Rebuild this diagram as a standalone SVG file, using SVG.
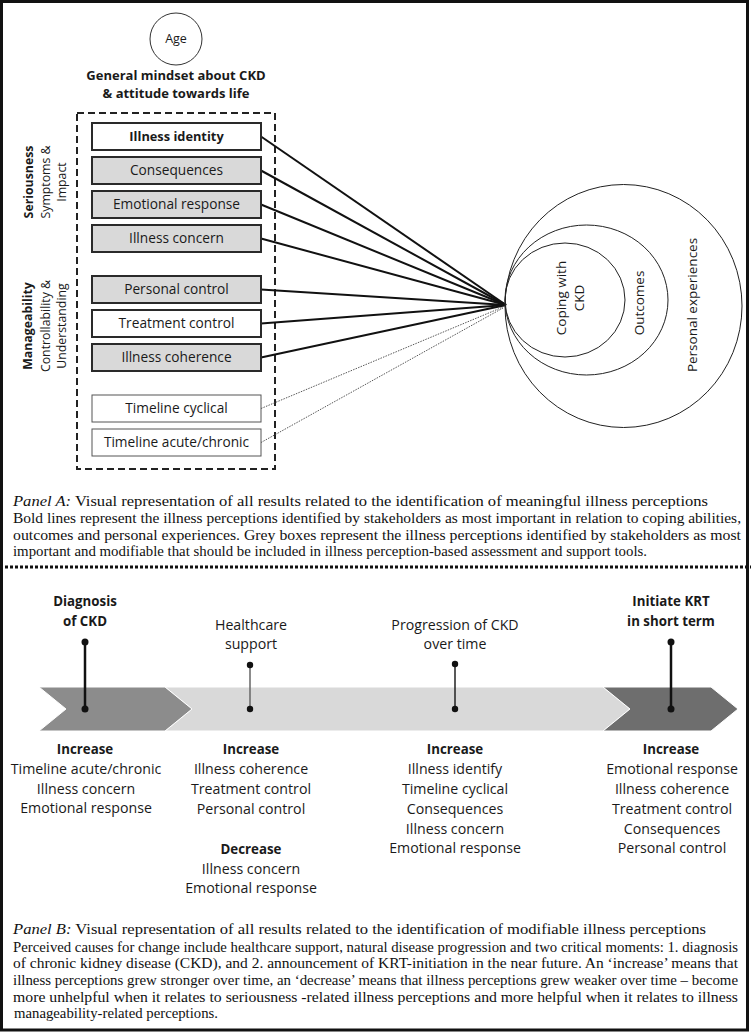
<svg xmlns="http://www.w3.org/2000/svg" width="751" height="1032" viewBox="0 0 751 1032">
<style>
.sans{font-family:"Open Sans","DejaVu Sans",sans-serif;fill:#1a1a1a}
.box{font-size:13.7px;text-anchor:middle}
.b{font-weight:bold}
.cap{font-family:"Liberation Serif","Times New Roman",serif;font-size:14.6px;fill:#111}
.lst{font-size:14.2px;text-anchor:middle}
.hd{font-size:13.3px;font-weight:bold;text-anchor:middle}
.rot{font-size:12.3px;text-anchor:middle}
.circ{font-size:13.5px;text-anchor:middle}
.grey{fill:#d9d9d9;stroke:#2a2a2a;stroke-width:2}
.white{fill:#fff;stroke:#2a2a2a;stroke-width:2}
.thin{fill:#fff;stroke:#555;stroke-width:1}
.solid{stroke:#111;stroke-width:2;fill:none}
.dot{stroke:#444;stroke-width:0.9;stroke-dasharray:1.5 1.2;fill:none}
.ring{fill:none;stroke:#222;stroke-width:1}
.pin{fill:#111}
</style>
<rect x="0" y="0" width="751" height="1032" fill="#fff"/>
<rect x="1.5" y="1.5" width="746" height="1028.5" fill="none" stroke="#111" stroke-width="3"/>

<!-- Panel A -->
<g id="age">
<circle cx="176" cy="39" r="26" fill="#fff" stroke="#333" stroke-width="1"/>
<text class="sans" x="176" y="43" font-size="12.5" text-anchor="middle">Age</text>
</g>
<g id="mindset">
<text class="sans b" x="176" y="80" font-size="13" text-anchor="middle">General mindset about CKD</text>
<text class="sans b" x="176" y="98" font-size="13" text-anchor="middle">&amp; attitude towards life</text>
</g>
<g id="frame-box">
<rect x="77" y="113" width="198" height="356" fill="none" stroke="#222" stroke-width="2" stroke-dasharray="7 4"/>
</g>
<g id="seriousness-label">
<text class="sans rot b" transform="translate(33,182) rotate(-90)">Seriousness</text>
<text class="sans rot" transform="translate(50,182) rotate(-90)">Symptoms &amp;</text>
<text class="sans rot" transform="translate(66,182) rotate(-90)">Impact</text>
</g>
<g id="manageability-label">
<text class="sans rot b" transform="translate(32,326) rotate(-90)">Manageability</text>
<text class="sans rot" transform="translate(50,326) rotate(-90)">Controllability &amp;</text>
<text class="sans rot" transform="translate(66,326) rotate(-90)">Understanding</text>
</g>

<g id="connectors">
<line class="solid" x1="261" y1="136.5" x2="506" y2="305"/>
<line class="solid" x1="261" y1="170.5" x2="506" y2="305"/>
<line class="solid" x1="261" y1="204.5" x2="506" y2="305"/>
<line class="solid" x1="261" y1="238.5" x2="506" y2="305"/>
<line class="solid" x1="261" y1="289.5" x2="506" y2="305"/>
<line class="solid" x1="261" y1="323.5" x2="506" y2="305"/>
<line class="solid" x1="261" y1="357.5" x2="506" y2="305"/>
<line class="dot" x1="261" y1="408.5" x2="503" y2="307"/>
<line class="dot" x1="261" y1="442.5" x2="503" y2="308"/>
</g>

<g id="illness-identity"><rect class="white" x="92" y="123" width="169" height="27"/><text class="sans b" x="176.5" y="141" font-size="12.8" text-anchor="middle">Illness identity</text></g>
<g id="consequences"><rect class="grey" x="92" y="157" width="169" height="27"/><text class="sans box" x="176.5" y="175">Consequences</text></g>
<g id="emotional-response"><rect class="grey" x="92" y="191" width="169" height="27"/><text class="sans box" x="176.5" y="209">Emotional response</text></g>
<g id="illness-concern"><rect class="grey" x="92" y="225" width="169" height="27"/><text class="sans box" x="176.5" y="243">Illness concern</text></g>
<g id="personal-control"><rect class="grey" x="92" y="276" width="169" height="27"/><text class="sans box" x="176.5" y="294">Personal control</text></g>
<g id="treatment-control"><rect class="white" x="92" y="310" width="169" height="27"/><text class="sans box" x="176.5" y="328">Treatment control</text></g>
<g id="illness-coherence"><rect class="grey" x="92" y="344" width="169" height="27"/><text class="sans box" x="176.5" y="362">Illness coherence</text></g>
<g id="timeline-cyclical"><rect class="thin" x="92" y="395" width="169" height="27"/><text class="sans box" x="176.5" y="413">Timeline cyclical</text></g>
<g id="timeline-acute"><rect class="thin" x="92" y="429" width="169" height="27"/><text class="sans box" x="176.5" y="447">Timeline acute/chronic</text></g>

<g id="personal-experiences">
<ellipse class="ring" cx="623.5" cy="306" rx="118.5" ry="121.5"/>
<text class="sans circ" transform="translate(697,305) rotate(-90)">Personal experiences</text>
</g>
<g id="outcomes">
<ellipse class="ring" cx="586.5" cy="300" rx="81.5" ry="75"/>
<text class="sans circ" transform="translate(644,303) rotate(-90)">Outcomes</text>
</g>
<g id="coping">
<ellipse class="ring" cx="565" cy="300" rx="60" ry="57"/>
<text class="sans circ" transform="translate(566,298) rotate(-90)">Coping with</text>
<text class="sans circ" transform="translate(584,298) rotate(-90)">CKD</text>
</g>

<g id="caption-a">
<text class="cap" x="13" y="506" textLength="695" lengthAdjust="spacingAndGlyphs"><tspan font-style="italic">Panel A:</tspan> Visual representation of all results related to the identification of meaningful illness perceptions</text>
<text class="cap" x="13" y="523" textLength="728" lengthAdjust="spacingAndGlyphs">Bold lines represent the illness perceptions identified by stakeholders as most important in relation to coping abilities,</text>
<text class="cap" x="13" y="540" textLength="728" lengthAdjust="spacingAndGlyphs">outcomes and personal experiences. Grey boxes represent the illness perceptions identified by stakeholders as most</text>
<text class="cap" x="13" y="556" textLength="634" lengthAdjust="spacingAndGlyphs">important and modifiable that should be included in illness perception-based assessment and support tools.</text>
</g>

<line x1="0" y1="567" x2="751" y2="567" stroke="#111" stroke-width="3" stroke-dasharray="3 2"/>

<!-- Panel B -->
<g id="timeline-arrow">
<polygon points="165,687 603,687 630,709 603,731 165,731 192,709" fill="#d9d9d9" stroke="#fff" stroke-width="1"/>
<polygon points="39,687 165,687 192,709 165,731 39,731 66,709" fill="#8c8c8c" stroke="#fff" stroke-width="1"/>
<polygon points="603,687 711,687 738,709 711,731 603,731 630,709" fill="#6e6e6e" stroke="#fff" stroke-width="1"/>
</g>

<g id="diagnosis">
<text class="sans hd" x="85" y="606">Diagnosis</text>
<text class="sans hd" x="85" y="626">of CKD</text>
<line x1="85" y1="642" x2="85" y2="709" stroke="#111" stroke-width="2.5"/>
<circle class="pin" cx="85" cy="642" r="3.5"/><circle class="pin" cx="85" cy="709" r="3.5"/>
<text class="sans hd" x="85" y="754">Increase</text>
<text class="sans lst" x="86" y="774">Timeline acute/chronic</text>
<text class="sans lst" x="86" y="794">Illness concern</text>
<text class="sans lst" x="86" y="813">Emotional response</text>
</g>

<g id="healthcare">
<text class="sans lst" x="251" y="630">Healthcare</text>
<text class="sans lst" x="251" y="649">support</text>
<line x1="250" y1="665" x2="250" y2="709" stroke="#666" stroke-width="1.5"/>
<circle class="pin" cx="250" cy="665" r="3.2"/><circle class="pin" cx="250" cy="709" r="3.2"/>
<text class="sans hd" x="251" y="754">Increase</text>
<text class="sans lst" x="251" y="774">Illness coherence</text>
<text class="sans lst" x="251" y="794">Treatment control</text>
<text class="sans lst" x="251" y="814">Personal control</text>
<text class="sans hd" x="251" y="854">Decrease</text>
<text class="sans lst" x="251" y="874">Illness concern</text>
<text class="sans lst" x="251" y="893">Emotional response</text>
</g>

<g id="progression">
<text class="sans lst" x="455" y="630">Progression of CKD</text>
<text class="sans lst" x="455" y="649">over time</text>
<line x1="455" y1="664" x2="455" y2="709" stroke="#222" stroke-width="1.5"/>
<circle class="pin" cx="455" cy="664" r="3.2"/><circle class="pin" cx="455" cy="709" r="3.2"/>
<text class="sans hd" x="455" y="754">Increase</text>
<text class="sans lst" x="455" y="774">Illness identify</text>
<text class="sans lst" x="455" y="794">Timeline cyclical</text>
<text class="sans lst" x="455" y="814">Consequences</text>
<text class="sans lst" x="455" y="834">Illness concern</text>
<text class="sans lst" x="455" y="853">Emotional response</text>
</g>

<g id="krt">
<text class="sans hd" x="671" y="606">Initiate KRT</text>
<text class="sans hd" x="671" y="626">in short term</text>
<line x1="671" y1="642" x2="671" y2="709" stroke="#111" stroke-width="2.5"/>
<circle class="pin" cx="671" cy="642" r="3.5"/><circle class="pin" cx="671" cy="709" r="3.5"/>
<text class="sans hd" x="671" y="754">Increase</text>
<text class="sans lst" x="672" y="774">Emotional response</text>
<text class="sans lst" x="672" y="794">Illness coherence</text>
<text class="sans lst" x="672" y="814">Treatment control</text>
<text class="sans lst" x="672" y="834">Consequences</text>
<text class="sans lst" x="672" y="853">Personal control</text>
</g>

<g id="caption-b">
<text class="cap" x="13" y="934" textLength="693" lengthAdjust="spacingAndGlyphs"><tspan font-style="italic">Panel B:</tspan> Visual representation of all results related to the identification of modifiable illness perceptions</text>
<text class="cap" x="13" y="952" textLength="725" lengthAdjust="spacingAndGlyphs" font-size="14">Perceived causes for change include healthcare support, natural disease progression and two critical moments: 1. diagnosis</text>
<text class="cap" x="13" y="968" textLength="725" lengthAdjust="spacingAndGlyphs">of chronic kidney disease (CKD), and 2. announcement of KRT-initiation in the near future. An ‘increase’ means that</text>
<text class="cap" x="13" y="985" textLength="725" lengthAdjust="spacingAndGlyphs" font-size="14">illness perceptions grew stronger over time, an ‘decrease’ means that illness perceptions grew weaker over time – become</text>
<text class="cap" x="13" y="1002" textLength="725" lengthAdjust="spacingAndGlyphs">more unhelpful when it relates to seriousness -related illness perceptions and more helpful when it relates to illness</text>
<text class="cap" x="14" y="1018" textLength="204" lengthAdjust="spacingAndGlyphs">manageability-related perceptions.</text>
</g>
</svg>
